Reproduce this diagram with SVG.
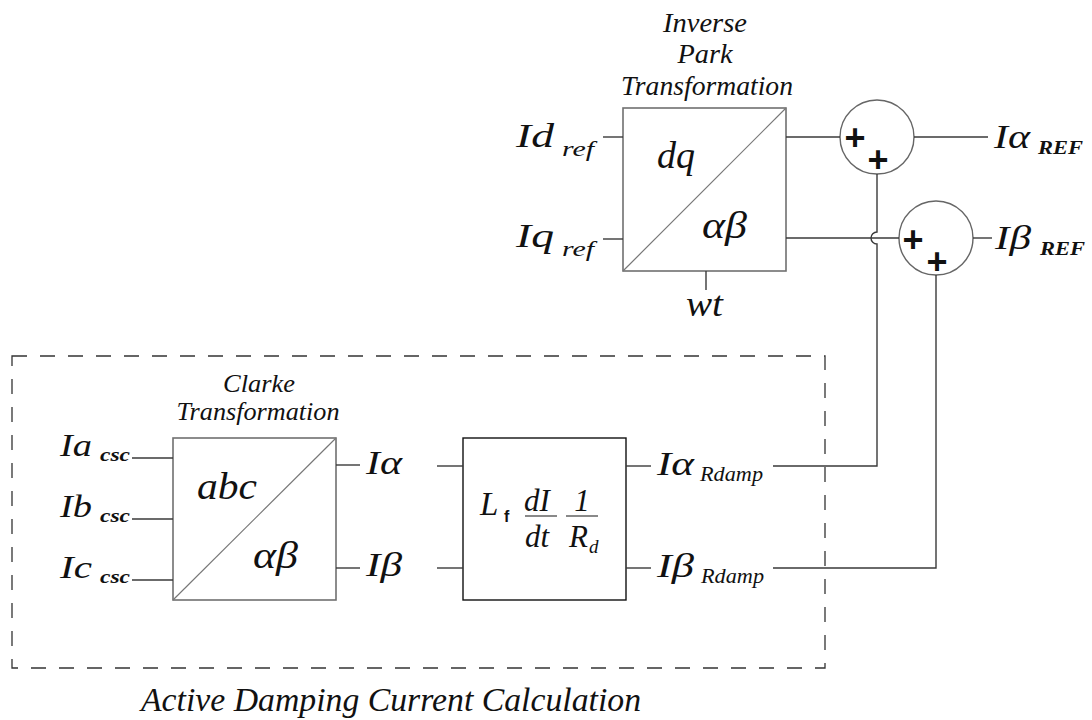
<svg xmlns="http://www.w3.org/2000/svg" width="1092" height="720" viewBox="0 0 1092 720">
  <rect width="1092" height="720" fill="#fff"/>

  <!-- boundary of the active damping current calculation -->
  <g id="damping-region">
    <rect x="12" y="356" width="813" height="312" fill="none" stroke="#333" stroke-width="1.3" stroke-dasharray="15 13"/>
    <text x="141" y="711" font-family="Liberation Serif" font-style="italic" font-size="33" fill="#111" textLength="500" lengthAdjust="spacingAndGlyphs">Active Damping Current Calculation</text>
  </g>

  <!-- inverse Park transformation block -->
  <g id="inverse-park" fill="#111">
    <text x="705" y="32" font-family="Liberation Serif" font-style="italic" font-size="27" text-anchor="middle" textLength="84" lengthAdjust="spacingAndGlyphs">Inverse</text>
    <text x="705" y="63" font-family="Liberation Serif" font-style="italic" font-size="27" text-anchor="middle" textLength="55" lengthAdjust="spacingAndGlyphs">Park</text>
    <text x="707" y="95" font-family="Liberation Serif" font-style="italic" font-size="27" text-anchor="middle" textLength="172" lengthAdjust="spacingAndGlyphs">Transformation</text>
    <rect x="623" y="108" width="163" height="163" fill="#fff" stroke="#707070" stroke-width="1.6"/>
    <line x1="623" y1="271" x2="786" y2="108" stroke="#777" stroke-width="1.2"/>
    <text x="657" y="168" font-family="Liberation Serif" font-style="italic" font-size="38">dq</text>
    <text x="702" y="238" font-family="Liberation Serif" font-style="italic" font-size="38" textLength="45" lengthAdjust="spacingAndGlyphs">αβ</text>
  </g>

  <g id="id-ref" fill="#111">
    <text x="516" y="147" font-family="Liberation Serif" font-style="italic" font-size="34" textLength="38" lengthAdjust="spacingAndGlyphs">Id</text>
    <text x="562" y="156" font-family="Liberation Serif" font-style="italic" font-size="22" textLength="32" lengthAdjust="spacingAndGlyphs">ref</text>
  </g>
  <g id="iq-ref" fill="#111">
    <text x="516" y="247" font-family="Liberation Serif" font-style="italic" font-size="34" textLength="38" lengthAdjust="spacingAndGlyphs">Iq</text>
    <text x="562" y="256" font-family="Liberation Serif" font-style="italic" font-size="22" textLength="32" lengthAdjust="spacingAndGlyphs">ref</text>
  </g>
  <g id="wt" fill="#111">
    <text x="686" y="316" font-family="Liberation Serif" font-style="italic" font-size="36" textLength="37" lengthAdjust="spacingAndGlyphs">wt</text>
  </g>

  <!-- summing junctions -->
  <g id="sum-alpha" fill="#111">
    <circle cx="877" cy="137" r="37" fill="#fff" stroke="#666" stroke-width="1.4"/>
    <text x="855" y="150" font-family="Liberation Sans" font-weight="bold" font-size="36" text-anchor="middle">+</text>
    <text x="878" y="172" font-family="Liberation Sans" font-weight="bold" font-size="36" text-anchor="middle">+</text>
  </g>
  <g id="sum-beta" fill="#111">
    <circle cx="936" cy="238" r="37" fill="#fff" stroke="#666" stroke-width="1.4"/>
    <text x="913" y="252" font-family="Liberation Sans" font-weight="bold" font-size="36" text-anchor="middle">+</text>
    <text x="937" y="274" font-family="Liberation Sans" font-weight="bold" font-size="36" text-anchor="middle">+</text>
  </g>

  <g id="i-alpha-ref" fill="#111">
    <text x="994" y="148" font-family="Liberation Serif" font-style="italic" font-size="34" textLength="36" lengthAdjust="spacingAndGlyphs">Iα</text>
    <text x="1038" y="154" font-family="Liberation Serif" font-style="italic" font-weight="bold" font-size="18" textLength="45" lengthAdjust="spacingAndGlyphs">REF</text>
  </g>
  <g id="i-beta-ref" fill="#111">
    <text x="995" y="249" font-family="Liberation Serif" font-style="italic" font-size="34" textLength="36" lengthAdjust="spacingAndGlyphs">Iβ</text>
    <text x="1040" y="255" font-family="Liberation Serif" font-style="italic" font-weight="bold" font-size="18" textLength="45" lengthAdjust="spacingAndGlyphs">REF</text>
  </g>

  <!-- Clarke transformation block -->
  <g id="clarke" fill="#111">
    <text x="259" y="392" font-family="Liberation Serif" font-style="italic" font-size="26" text-anchor="middle" textLength="72" lengthAdjust="spacingAndGlyphs">Clarke</text>
    <text x="258" y="420" font-family="Liberation Serif" font-style="italic" font-size="26" text-anchor="middle" textLength="163" lengthAdjust="spacingAndGlyphs">Transformation</text>
    <rect x="173" y="438" width="163" height="162" fill="#fff" stroke="#707070" stroke-width="1.6"/>
    <line x1="173" y1="600" x2="336" y2="438" stroke="#777" stroke-width="1.2"/>
    <text x="197" y="499" font-family="Liberation Serif" font-style="italic" font-size="38" textLength="60" lengthAdjust="spacingAndGlyphs">abc</text>
    <text x="253" y="568" font-family="Liberation Serif" font-style="italic" font-size="38" textLength="45" lengthAdjust="spacingAndGlyphs">αβ</text>
  </g>

  <g id="ia-csc" fill="#111">
    <text x="60" y="456" font-family="Liberation Serif" font-style="italic" font-size="32" textLength="32" lengthAdjust="spacingAndGlyphs">Ia</text>
    <text x="100" y="461" font-family="Liberation Serif" font-style="italic" font-weight="bold" font-size="18" textLength="30" lengthAdjust="spacingAndGlyphs">csc</text>
  </g>
  <g id="ib-csc" fill="#111">
    <text x="60" y="517" font-family="Liberation Serif" font-style="italic" font-size="32" textLength="32" lengthAdjust="spacingAndGlyphs">Ib</text>
    <text x="100" y="522" font-family="Liberation Serif" font-style="italic" font-weight="bold" font-size="18" textLength="30" lengthAdjust="spacingAndGlyphs">csc</text>
  </g>
  <g id="ic-csc" fill="#111">
    <text x="60" y="578" font-family="Liberation Serif" font-style="italic" font-size="32" textLength="32" lengthAdjust="spacingAndGlyphs">Ic</text>
    <text x="100" y="583" font-family="Liberation Serif" font-style="italic" font-weight="bold" font-size="18" textLength="30" lengthAdjust="spacingAndGlyphs">csc</text>
  </g>

  <g id="i-alpha" fill="#111">
    <text x="366" y="474" font-family="Liberation Serif" font-style="italic" font-size="34" textLength="36" lengthAdjust="spacingAndGlyphs">Iα</text>
  </g>
  <g id="i-beta" fill="#111">
    <text x="366" y="576" font-family="Liberation Serif" font-style="italic" font-size="34" textLength="36" lengthAdjust="spacingAndGlyphs">Iβ</text>
  </g>

  <!-- damping current block: Lf dI/dt 1/Rd -->
  <g id="damping-block" fill="#111">
    <rect x="463" y="438" width="163" height="162" fill="#fff" stroke="#111" stroke-width="1.4"/>
    <text x="480" y="515" font-family="Liberation Serif" font-style="italic" font-size="33">L</text>
    <text x="504" y="522" font-family="Liberation Sans" font-weight="bold" font-size="16">f</text>
    <text x="537" y="511" font-family="Liberation Serif" font-style="italic" font-size="31" text-anchor="middle">dI</text>
    <line x1="525" y1="516" x2="557" y2="516" stroke="#3a3a3a" stroke-width="1.2"/>
    <text x="537" y="547" font-family="Liberation Serif" font-style="italic" font-size="31" text-anchor="middle">dt</text>
    <text x="582" y="511" font-family="Liberation Serif" font-style="italic" font-size="31" text-anchor="middle">1</text>
    <line x1="566" y1="516" x2="598" y2="516" stroke="#3a3a3a" stroke-width="1.2"/>
    <text x="569" y="547" font-family="Liberation Serif" font-style="italic" font-size="31">R</text>
    <text x="589" y="553" font-family="Liberation Serif" font-style="italic" font-size="19">d</text>
  </g>

  <g id="i-alpha-rdamp" fill="#111">
    <text x="657" y="475" font-family="Liberation Serif" font-style="italic" font-size="34" textLength="37" lengthAdjust="spacingAndGlyphs">Iα</text>
    <text x="700" y="481" font-family="Liberation Serif" font-style="italic" font-size="21" textLength="63" lengthAdjust="spacingAndGlyphs">Rdamp</text>
  </g>
  <g id="i-beta-rdamp" fill="#111">
    <text x="657" y="577" font-family="Liberation Serif" font-style="italic" font-size="34" textLength="37" lengthAdjust="spacingAndGlyphs">Iβ</text>
    <text x="701" y="583" font-family="Liberation Serif" font-style="italic" font-size="21" textLength="63" lengthAdjust="spacingAndGlyphs">Rdamp</text>
  </g>

  <!-- signal lines, all drawn in one stroke style -->
  <g id="connectors" stroke="#3a3a3a" stroke-width="1.4" fill="none">
    <line x1="603" y1="137" x2="623" y2="137"/>
    <line x1="603" y1="239" x2="623" y2="239"/>
    <line x1="706" y1="271" x2="706" y2="290"/>
    <line x1="786" y1="137" x2="840" y2="137"/>
    <line x1="786" y1="238" x2="899" y2="238"/>
    <line x1="914" y1="137" x2="988" y2="137"/>
    <line x1="973" y1="238" x2="992" y2="238"/>
    <path d="M877 174 V232 A6 6 0 0 0 877 244 V466 H773"/>
    <path d="M936 275 V568 H773"/>
    <line x1="132" y1="458" x2="173" y2="458"/>
    <line x1="132" y1="519" x2="173" y2="519"/>
    <line x1="132" y1="580" x2="173" y2="580"/>
    <line x1="336" y1="465" x2="360" y2="465"/>
    <line x1="336" y1="568" x2="360" y2="568"/>
    <line x1="437" y1="466" x2="463" y2="466"/>
    <line x1="437" y1="568" x2="463" y2="568"/>
    <line x1="626" y1="466" x2="651" y2="466"/>
    <line x1="626" y1="568" x2="651" y2="568"/>
  </g>
</svg>
